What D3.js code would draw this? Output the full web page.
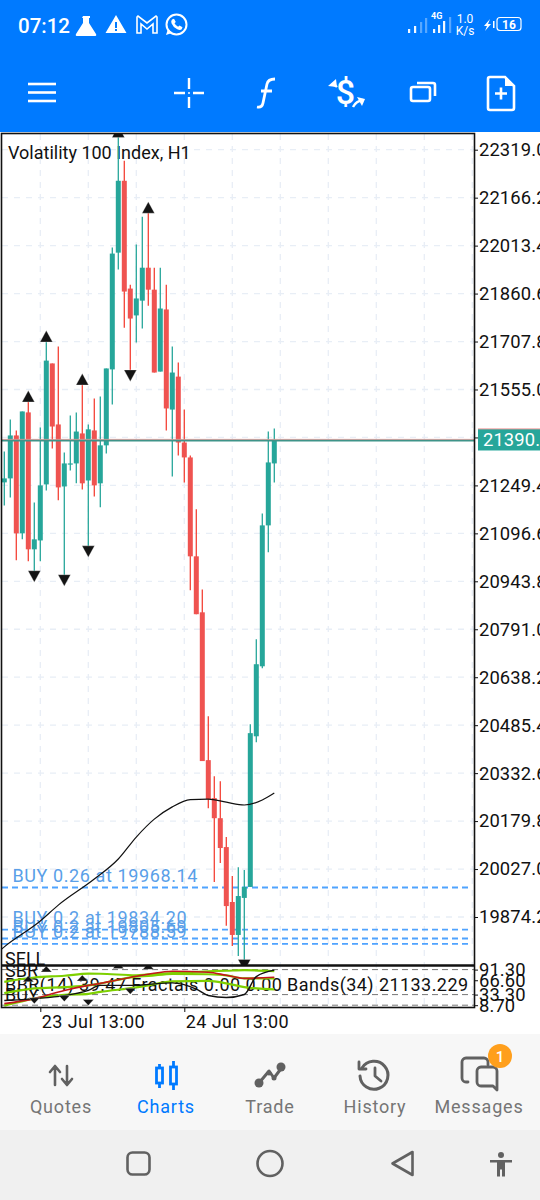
<!DOCTYPE html>
<html>
<head>
<meta charset="utf-8">
<script src="https://cdn.jsdelivr.net/npm/d3@7/dist/d3.min.js"></script>
<style>
html,body{margin:0;padding:0;background:#fff;width:540px;height:1200px;overflow:hidden}
svg{display:block;font-family:Roboto,sans-serif}
</style>
</head>
<body>
<svg id="app" width="540" height="1200"></svg>
<script>
// Hourly candles, oldest first
const opens = [21259,21271.7,21408.6,21096.6,21482,21045.7,21074,21252.6,21638,21443.6,21246,21316,21319.4,21415,21265,21424.5,21256,21377,21619,21991,22220,21876.5,21791,21838,21943,21873,21612,21810,21491,21596,21386,21338.5,21023.4,20845,20374,20253,20189,20097,19922,19817,19935,19970,20450,20673,21122,21319.4];
const highs = [21357.6,21459.5,21424.5,21485,21517,21195,21434,21708,21638,21692,21354.5,21472,21482,21571,21443.6,21526,21533,21622,22007,22360,22284,21889,22016.6,22105.7,22118.5,21943,21943,21889,21692,21641,21491,21345,21173,20918,20514,20323,20307,20129,20005,20033,20024,20488.6,20759,21160,21421,21431];
const lows = [21185.7,21211,21010.7,21077.5,21007.5,20975.6,21007.5,21233.5,21367,21201.7,20963,21297,21256,21236.7,21055,21214,21179.4,21351,21507,21937,21752,21615.5,21705,21749,21822,21609,21612,21424.5,21278,21345,21259,20915,20839,20371,20221,19986,20046,19846,19782,19750,19737,19970,20431,20667,21036,21259];
const closes = [21271.7,21408.6,21096.6,21485,21045.7,21077.5,21249.4,21647,21437,21243,21319.4,21319.4,21421,21256,21428,21249.4,21377,21622,21988,22220,21867,21781,21845,21943,21873,21609,21813,21494.5,21609,21386,21338.5,21023.4,20839,20371,20250,20189,20094,19909,19817,19941,19970,20460,20679.6,21122,21322.6,21390.9];

// Fractal markers by candle index
const fractalUp = [4,7,13,19,24];
const fractalDown = [5,10,14,21,40];

// Moving average, read at a handful of candles
const maIndex = [-1,0,6,9,15,19,22,25,28,31,34,37,40,43,45];
const maValue = [19763,19779,19861.5,19912,19995,20059,20129,20186,20225,20248,20250,20240,20231,20247,20269];

// Price axis and open orders
const priceTicks = [22319.0,22166.2,22013.4,21860.6,21707.8,21555.0,21402.2,21249.4,21096.6,20943.8,20791.0,20638.2,20485.4,20332.6,20179.8,20027.0,19874.2];
const hiddenPriceTick = 21402.2;
const orderVolumes = [0.26,0.2,0.2,0.2];
const orderPrices = [19968.14,19834.20,19805.69,19788.59];
const lastPrice = 21390.9;

// Time axis: one grid line every eight hours, labels once a day
const gridIndex = [6,14,22,30,38,46,54,62,70,78];
const timeIndex = [6,30];
const timeLabels = ['23 Jul 13:00','24 Jul 13:00'];

// Oscillator pane
const paneTicks = [91.30,66.60,33.30,8.70];
const paneLevels = [91.30,33.30,8.70];
const bandIndex = [0,5,10,14,16,22,24,28,34,37,40,45];
const bandTop = [63,73,77,82,81.7,78,80,83,87.5,88.6,90,87.5];
const bandMid = [36.6,47.6,50.7,54.7,59,75,76.5,81.5,80.5,78,71,71];
const bandLow = [7.7,24,32.5,35,39.5,50,54.7,64,65,59.4,50.7,45.3];
const redLine = [12.4,24,43,54.7,59.4,75.8,80.5,87.5,85.2,78.2,71,73.5];
const blackIndex = [0,5,10,14,16,22,24,28,32,34,37,40,42,45];
const blackLine = [19.5,24,31,43,54.7,54.7,57,60.6,46,31.2,26.5,33.6,75,90];
const paneUpIndex = [4,7,13,19,24];
const paneUpValue = [63,86,65,94,92];
const paneDownIndex = [5,10,14,21,40];
const paneDownValue = [26,31,22,48,-2];

// Chrome text
const navLabels = ['Quotes','Charts','Trade','History','Messages'];
const navCentres = [61,166,270,375,479];

const TEAL = '#26a69a', RED = '#ef5350', BLUE = '#007aff', GREY = '#616161';
const svg = d3.select('#app');

const L = 2, R = 474, T = 134, M = 965, B = 1007;
const x = d3.scaleLinear().domain([0,45]).range([4.3,274.3]);
const y = d3.scaleLinear().domain([22319.0,19874.2]).range([149.7,917]);
const py = d3.scaleLinear().domain([91.30,8.70]).range([969.6,1005.2]);

svg.append('rect').attr('width',540).attr('height',1200).attr('fill','#fff');

const defs = svg.append('defs');
defs.append('clipPath').attr('id','mainClip').append('rect').attr('x',L).attr('y',T).attr('width',R-L).attr('height',M-T);
defs.append('clipPath').attr('id','paneClip').append('rect').attr('x',L).attr('y',M).attr('width',R-L).attr('height',B-M);

/* grid */
const grid = svg.append('g').attr('fill','none').attr('stroke','#e8eef6').attr('stroke-width',1.3).attr('stroke-dasharray','6,6');
grid.selectAll('line.h').data(priceTicks).join('line').attr('class','h')
  .attr('x1',L).attr('x2',R).attr('y1',d=>y(d)).attr('y2',d=>y(d));
grid.selectAll('line.v').data(gridIndex.filter(d=>x(d)<R)).join('line').attr('class','v')
  .attr('x1',d=>x(d)).attr('x2',d=>x(d)).attr('y1',T).attr('y2',B);

/* main pane */
const main = svg.append('g').attr('clip-path','url(#mainClip)');

const orders = main.append('g');
orderPrices.forEach((p,i)=>{
  orders.append('line').attr('x1',L).attr('x2',R-2).attr('y1',y(p)).attr('y2',y(p))
    .attr('stroke','#4fa3ff').attr('stroke-width',1.8).attr('stroke-dasharray','6,4');
});
orderPrices.forEach((p,i)=>{
  orders.append('text').attr('x',12.5).attr('y',y(p)-6).attr('font-size',18).attr('fill','#5a9fe8').attr('letter-spacing',0.6)
    .text(`BUY ${orderVolumes[i]} at ${p.toFixed(2)}`);
});

main.append('text').attr('x',8).attr('y',159).attr('font-size',18).attr('fill','#111').text('Volatility 100 Index, H1');

// Candles
const candles = main.append('g');
candles.selectAll('line').data(opens).join('line')
  .attr('x1',(d,i)=>x(i)).attr('x2',(d,i)=>x(i))
  .attr('y1',(d,i)=>y(highs[i])).attr('y2',(d,i)=>y(lows[i]))
  .attr('stroke',(d,i)=>closes[i]>=d?TEAL:'#f44336').attr('stroke-width',1.3);
candles.selectAll('rect').data(opens).join('rect')
  .attr('x',(d,i)=>x(i)-2.5).attr('width',5)
  .attr('y',(d,i)=>y(Math.max(d,closes[i])))
  .attr('height',(d,i)=>Math.max(1.2,Math.abs(y(d)-y(closes[i]))))
  .attr('fill',(d,i)=>closes[i]>=d?TEAL:RED);

// Last price: bid line in red just above the teal ask line
main.append('line').attr('x1',L).attr('x2',R).attr('y1',y(lastPrice)-1.6).attr('y2',y(lastPrice)-1.6).attr('stroke','#ef9a9a').attr('stroke-width',1);
main.append('line').attr('x1',L).attr('x2',R).attr('y1',y(lastPrice)-.4).attr('y2',y(lastPrice)-.4).attr('stroke','#3f9489').attr('stroke-width',1.8);

// Moving average
const maLine = d3.line().x(d=>x(d[0])).y(d=>y(d[1])).curve(d3.curveMonotoneX);
main.append('path').attr('d',maLine(d3.zip(maIndex,maValue))).attr('fill','none').attr('stroke','#111').attr('stroke-width',1.2);

// Fractals sit on the wick tip of their candle
function triangle(g,cx,base,dir,w,h){
  g.append('path').attr('d',`M${cx-w},${base}L${cx+w},${base}L${cx},${base-dir*h}Z`)
   .attr('fill','#141414').attr('stroke','#fff').attr('stroke-opacity',.5).attr('stroke-width',.6);
}
const marks = main.append('g');
fractalUp.forEach(i=>triangle(marks,x(i),y(highs[i])+.6,1,6.3,11.5));
fractalDown.forEach(i=>triangle(marks,x(i),y(lows[i])-.6,-1,6.3,11.5));

/* oscillator pane */
const pane = svg.append('g').attr('clip-path','url(#paneClip)');
pane.selectAll('line').data(paneLevels).join('line')
  .attr('x1',L).attr('x2',R).attr('y1',d=>py(d)).attr('y2',d=>py(d))
  .attr('stroke','#777').attr('stroke-width',1).attr('stroke-dasharray','6,4');

const paneText = pane.append('g').attr('font-size',18).attr('fill','#111');
paneText.append('text').attr('x',5).attr('y',977).text('SBR');
paneText.append('text').attr('x',5).attr('y',991).attr('letter-spacing',.43).text('BBR(14) 39.47 Fractals 0.00 0.00 Bands(34) 21133.229');
paneText.append('text').attr('x',5).attr('y',1001).text('BUY');

const bandPath = d3.line().x(d=>x(d[0])).y(d=>py(d[1])).curve(d3.curveMonotoneX);
[[bandTop,'#7ed000',2.2],[bandMid,'#7ed000',2.2],[bandLow,'#7ed000',2.2],[redLine,'#c4161c',1.6]].forEach(s=>{
  pane.append('path').attr('d',bandPath(d3.zip(bandIndex,s[0]))).attr('fill','none').attr('stroke',s[1]).attr('stroke-width',s[2]);
});
pane.append('path').attr('d',bandPath(d3.zip(blackIndex,blackLine))).attr('fill','none').attr('stroke','#111').attr('stroke-width',1.4);

const paneMarks = pane.append('g');
paneUpIndex.forEach((i,k)=>triangle(paneMarks,x(i),py(paneUpValue[k]),1,5.5,6));
paneDownIndex.forEach((i,k)=>triangle(paneMarks,x(i),py(paneDownValue[k]),-1,5.5,6));

// SELL tag from the order overlay, cut by the pane divider
svg.append('text').attr('x',5).attr('y',965).attr('font-size',18).attr('fill','#111')
  .attr('clip-path','url(#mainClip)').text('SELL');

/* frames */
const frame = svg.append('g').attr('fill','none').attr('stroke','#111');
frame.append('rect').attr('x',1.5).attr('y',133.5).attr('width',473).attr('height',874).attr('stroke-width',1.6);
frame.append('line').attr('x1',1).attr('x2',475).attr('y1',965.5).attr('y2',965.5).attr('stroke-width',2.6);

/* axes */
const priceFormat = d3.format('.1f');
const priceAxis = d3.axisRight(y).tickValues(priceTicks)
  .tickFormat(d=>d===hiddenPriceTick?'':priceFormat(d)).tickSize(3).tickPadding(1);
const priceG = svg.append('g').attr('transform',`translate(${R+1},0)`).call(priceAxis);
const paneAxis = d3.axisRight(py).tickValues(paneTicks).tickFormat(d3.format('.2f')).tickSize(3).tickPadding(1);
const paneG = svg.append('g').attr('transform',`translate(${R+1},0)`).call(paneAxis);
[priceG,paneG].forEach(g=>{
  g.select('.domain').remove();
  g.selectAll('text').attr('font-size',18.4).attr('fill','#111').attr('font-family','Roboto,sans-serif').attr('letter-spacing',.1);
  g.selectAll('line').attr('stroke','#111');
});

const timeAxis = d3.axisBottom(x).tickValues(timeIndex).tickFormat((d,i)=>timeLabels[i]).tickSize(4).tickPadding(1);
const timeG = svg.append('g').attr('transform',`translate(0,${B+1})`).call(timeAxis);
timeG.select('.domain').remove();
timeG.selectAll('line').attr('stroke','#111');
timeG.selectAll('text').attr('text-anchor','start').attr('dx',1).attr('dy','0.85em').attr('font-size',18).attr('fill','#111').attr('font-family','Roboto,sans-serif').attr('letter-spacing',.42);

// Last price tag on the axis
const tag = svg.append('g');
tag.append('rect').attr('x',478).attr('y',y(lastPrice)-12).attr('width',62).attr('height',21.5).attr('fill',TEAL);
tag.append('rect').attr('x',478).attr('y',y(lastPrice)-12.6).attr('width',62).attr('height',1).attr('fill','#ef9a9a');
tag.append('text').attr('x',483).attr('y',y(lastPrice)+5.5).attr('font-size',18.4).attr('fill','#fff').attr('letter-spacing',.1).text(lastPrice.toFixed(1));

/* status and tool bars */
svg.append('rect').attr('width',540).attr('height',132).attr('fill',BLUE);
const statusBar = svg.append('g').attr('fill','#fff');
statusBar.append('text').attr('x',18).attr('y',33).attr('font-size',20.5).attr('font-weight',500).text('07:12');

statusBar.append('path').attr('d','M83,16h7v2h-1v5l7,11q1,2-1.5,2h-17q-2.5,0-1.5-2l7-11v-5h-1z');
statusBar.append('path').attr('fill-rule','evenodd').attr('d','M116,15l10.5,18h-21zM115,22v6h2v-6zM115,29v2h2v-2z');
statusBar.append('path').attr('d','M137,17v16h4v-9l6,5 6-5v9h4v-16l-1,-1-9,7-9-7z').attr('fill','none').attr('stroke','#fff').attr('stroke-width',1.6);
statusBar.append('circle').attr('cx',176.5).attr('cy',24.5).attr('r',10).attr('fill','none').attr('stroke','#fff').attr('stroke-width',2);
statusBar.append('path').attr('d','M168,29l-2,6 6-2z');
statusBar.append('path').attr('d','M172,19.5l2-.8 1.8,3.2-1.3,1.4q1.2,2.4 3.6,3.5l1.4-1.3 3,1.8-.8,2q-1.5,1.2-4.4,0-4.2-1.9-5.8-6-.8-2.4.5-3.8z');

[[408,4,.95],[414,7,.95],[420,11,.35],[425,15,.35]].forEach(b=>statusBar.append('rect').attr('x',b[0]).attr('y',33-b[1]).attr('width',2.2).attr('height',b[1]).attr('opacity',b[2]));
statusBar.append('text').attr('x',431).attr('y',19).attr('font-size',9).attr('font-weight',700).text('4G');
[[433,4,.95],[438,8,.95],[443,12,.95],[449,16,.35]].forEach(b=>statusBar.append('rect').attr('x',b[0]).attr('y',33-b[1]).attr('width',2.2).attr('height',b[1]).attr('opacity',b[2]));
statusBar.append('text').attr('x',465).attr('y',23).attr('font-size',12).attr('text-anchor','middle').text('1.0');
statusBar.append('text').attr('x',465).attr('y',35).attr('font-size',12).attr('text-anchor','middle').text('K/s');
statusBar.append('path').attr('d','M490,19l-6,7h3l-2,5 6-7h-3z');
statusBar.append('rect').attr('x',493).attr('y',21).attr('width',1.5).attr('height',7);
statusBar.append('rect').attr('x',497).attr('y',17.5).attr('width',24).attr('height',13).attr('rx',3).attr('fill','none').attr('stroke','#fff').attr('stroke-width',1.2);
statusBar.append('text').attr('x',509).attr('y',29).attr('font-size',12).attr('font-weight',700).attr('text-anchor','middle').text('16');

const tools = svg.append('g').attr('fill','none').attr('stroke','#fff').attr('stroke-width',2.6);
[84,92.5,101].forEach(v=>tools.append('line').attr('x1',28).attr('x2',56).attr('y1',v).attr('y2',v));
tools.append('path').attr('d','M174,93h11M193,93h11M189,78v11M189,97v11').attr('stroke-width',2.4);
tools.append('circle').attr('cx',189).attr('cy',93).attr('r',1).attr('fill','#fff').attr('stroke','none');
tools.append('path').attr('d','M257,107q5,1 6-4l4-19q1-5 8-5M261,91h11').attr('stroke-width',2.8);
svg.append('text').attr('x',345.5).attr('y',104).attr('font-size',34).attr('font-weight',500).attr('fill','#fff').attr('text-anchor','middle').text('$');
tools.append('path').attr('d','M337,87q-3-3-5-2M363,100q-7,1-10,7').attr('stroke-width',2.4);
svg.append('path').attr('fill','#fff').attr('d','M328,86l8-7 1,8zM357,97l8,2-3,7z');
tools.append('rect').attr('x',411).attr('y',87).attr('width',19).attr('height',14).attr('rx',2);
tools.append('path').attr('d','M417,83h16a2,2 0 0 1 2,2v11');
tools.append('path').attr('d','M490,77h15l9,9v22a2,2 0 0 1-2,2h-22a2,2 0 0 1-2-2v-29a2,2 0 0 1 2-2z');
tools.append('path').attr('d','M501,87.5v12M495,93.5h12');
svg.append('path').attr('fill','#fff').attr('d','M505,77l9,9h-9z');

/* bottom navigation */
svg.append('rect').attr('y',1034).attr('width',540).attr('height',96).attr('fill','#f7f7f7');
svg.append('rect').attr('y',1130).attr('width',540).attr('height',70).attr('fill','#f0f0f0');
svg.append('g').selectAll('text').data(navLabels).join('text')
  .attr('x',(d,i)=>navCentres[i]).attr('y',1113).attr('text-anchor','middle').attr('font-size',18).attr('letter-spacing',.8)
  .attr('fill',d=>d==='Charts'?BLUE:'#757575').text(d=>d);

const nav = svg.append('g').attr('fill','none').attr('stroke',GREY).attr('stroke-width',2.6).attr('stroke-linecap','round').attr('stroke-linejoin','round');
nav.append('path').attr('d','M55,1085v-18M50,1072l5-6 5,6M67,1066v18M62,1079l5,6 5-6');
const ch = svg.append('g').attr('fill','none').attr('stroke',BLUE).attr('stroke-width',2.8);
ch.append('rect').attr('x',156.5).attr('y',1068).attr('width',6).attr('height',15);
ch.append('rect').attr('x',170.5).attr('y',1067).attr('width',6).attr('height',17);
ch.append('path').attr('d','M159.5,1064v4M159.5,1083v5M173.5,1061v6M173.5,1084v6');
nav.append('path').attr('d','M259,1083l10-12 5,7 9-12').attr('stroke-width',3);
[[259,1083,4.5],[281,1067,4.5],[269,1073,2.5],[274,1078,2.5]].forEach(c=>svg.append('circle').attr('cx',c[0]).attr('cy',c[1]).attr('r',c[2]).attr('fill',GREY));
nav.append('path').attr('d','M362,1068a14,14 0 1 1-2,8').attr('stroke-width',3);
nav.append('path').attr('d','M359,1062v7h7M375,1068v8l6,5').attr('stroke-width',2.8);
nav.append('path').attr('d','M488,1065v-3a4,4 0 0 0-4-4h-18a4,4 0 0 0-4,4v16a4,4 0 0 0 4,4h2l0,0').attr('stroke-width',2.8);
nav.append('path').attr('d','M481,1067h12a4,4 0 0 1 4,4v19l-4-4h-12a4,4 0 0 1-4-4v-11a4,4 0 0 1 4-4z').attr('stroke-width',2.8);
svg.append('circle').attr('cx',500).attr('cy',1056).attr('r',12).attr('fill','#ff9f1c');
svg.append('text').attr('x',500).attr('y',1062).attr('text-anchor','middle').attr('font-size',15).attr('font-weight',500).attr('fill','#fff').text('1');

nav.append('rect').attr('x',127.5).attr('y',1152.5).attr('width',22).attr('height',22).attr('rx',5);
nav.append('circle').attr('cx',270).attr('cy',1163.5).attr('r',12.5);
nav.append('path').attr('d','M412.5,1152v23l-20-11.5z');
svg.append('circle').attr('cx',501).attr('cy',1155).attr('r',3).attr('fill',GREY);
svg.append('path').attr('fill',GREY).attr('d','M490,1160h22v2.5h-7v14h-3v-7h-2v7h-3v-14h-7z');
</script>
</body>
</html>
